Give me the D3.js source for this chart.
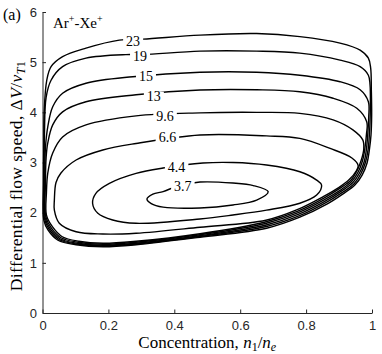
<!DOCTYPE html>
<html>
<head>
<meta charset="utf-8">
<script src="https://cdn.jsdelivr.net/npm/d3@7"></script>
<style>
  body { margin: 0; background: #fff; }
  svg { display: block; }
  .tick text { font-family: "Liberation Sans", Arial, sans-serif; font-size: 13px; fill: #262626; }
  .axis path, .axis line { stroke: #262626; }
  .serif { font-family: "Liberation Serif", "Times New Roman", serif; fill: #000; }
</style>
</head>
<body>
<div id="chart"></div>
<script>
// contour levels, in drawing order
var levels = ["23", "19", "15", "13", "9.6", "6.6", "4.4", "3.7"];

// each contour is a closed loop of [concentration, speed] points
var c23 = [[0.004,1.85],[0.003,2.6],[0.004,3.4],[0.005,4.0],[0.013,4.64],[0.026,4.91],[0.061,5.11],[0.132,5.28],[0.233,5.44],[0.305,5.46],[0.478,5.54],[0.65,5.57],[0.781,5.51],[0.903,5.38],[0.964,5.24],[0.989,5.08],[0.996,4.88],[0.998,4.45],[0.999,3.95],[0.997,3.55],[0.992,3.25],[0.985,2.99],[0.970,2.75],[0.948,2.55],[0.911,2.37],[0.863,2.17],[0.781,1.91],[0.680,1.69],[0.478,1.51],[0.284,1.36],[0.184,1.32],[0.102,1.36],[0.047,1.45],[0.017,1.65]];
var c19 = [[0.006,1.88],[0.005,2.6],[0.006,3.6],[0.011,4.3],[0.026,4.64],[0.061,4.91],[0.132,5.08],[0.253,5.15],[0.305,5.15],[0.478,5.22],[0.65,5.22],[0.781,5.18],[0.903,5.04],[0.964,4.91],[0.989,4.74],[0.994,4.55],[0.995,4.1],[0.994,3.8],[0.992,3.55],[0.988,3.25],[0.980,3.0],[0.966,2.77],[0.945,2.57],[0.909,2.40],[0.860,2.20],[0.780,1.94],[0.680,1.725],[0.478,1.525],[0.284,1.375],[0.184,1.335],[0.104,1.375],[0.05,1.465],[0.02,1.665]];
var c15 = [[0.008,1.9],[0.007,2.6],[0.009,3.3],[0.016,3.71],[0.031,4.11],[0.061,4.38],[0.132,4.58],[0.274,4.71],[0.478,4.80],[0.65,4.80],[0.781,4.74],[0.903,4.61],[0.964,4.45],[0.989,4.21],[0.990,3.9],[0.987,3.55],[0.983,3.26],[0.976,3.01],[0.962,2.79],[0.942,2.60],[0.907,2.43],[0.858,2.23],[0.778,1.97],[0.679,1.755],[0.478,1.54],[0.284,1.39],[0.184,1.35],[0.106,1.39],[0.053,1.48],[0.023,1.68]];
var c13 = [[0.01,1.92],[0.009,2.6],[0.011,3.1],[0.016,3.39],[0.031,3.75],[0.061,4.01],[0.132,4.21],[0.284,4.35],[0.478,4.445],[0.65,4.45],[0.781,4.41],[0.882,4.28],[0.954,4.08],[0.984,3.81],[0.983,3.55],[0.978,3.26],[0.971,3.03],[0.958,2.81],[0.938,2.62],[0.904,2.45],[0.856,2.26],[0.776,2.0],[0.677,1.785],[0.478,1.56],[0.284,1.41],[0.184,1.37],[0.108,1.41],[0.056,1.50],[0.026,1.70]];
var c96 = [[0.012,1.95],[0.012,2.4],[0.016,2.79],[0.031,3.19],[0.061,3.51],[0.132,3.75],[0.284,3.93],[0.478,3.99],[0.65,4.0],[0.781,3.98],[0.882,3.85],[0.942,3.65],[0.972,3.45],[0.975,3.27],[0.967,3.04],[0.954,2.83],[0.935,2.64],[0.901,2.48],[0.854,2.29],[0.775,2.03],[0.676,1.815],[0.478,1.58],[0.284,1.43],[0.184,1.39],[0.11,1.43],[0.06,1.52],[0.03,1.72]];
var c66 = [[0.036,2.25],[0.041,2.6],[0.056,2.79],[0.102,3.05],[0.183,3.25],[0.284,3.38],[0.478,3.548],[0.68,3.53],[0.781,3.48],[0.873,3.28],[0.939,3.09],[0.958,2.94],[0.953,2.84],[0.931,2.66],[0.899,2.50],[0.852,2.32],[0.773,2.06],[0.678,1.85],[0.478,1.71],[0.284,1.59],[0.183,1.575],[0.102,1.62],[0.051,1.79],[0.036,2.05]];
var c44 = [[0.152,2.187],[0.162,2.386],[0.203,2.585],[0.284,2.784],[0.366,2.89],[0.487,2.99],[0.578,3.0],[0.68,2.95],[0.781,2.816],[0.832,2.65],[0.847,2.55],[0.832,2.35],[0.781,2.187],[0.68,2.05],[0.578,1.953],[0.478,1.874],[0.284,1.788],[0.213,1.854],[0.168,1.987]];
var c37 = [[0.317,2.272],[0.335,2.37],[0.366,2.42],[0.41,2.53],[0.478,2.61],[0.578,2.59],[0.64,2.54],[0.685,2.418],[0.65,2.25],[0.578,2.153],[0.478,2.093],[0.366,2.11],[0.33,2.18]];
var contours = [c23, c19, c15, c13, c96, c66, c44, c37];

// inline label positions (concentration, speed)
var labelX = [0.275, 0.296, 0.314, 0.338, 0.372, 0.379, 0.407, 0.426];
var labelY = [5.42, 5.12, 4.72, 4.31, 3.91, 3.50, 2.91, 2.53];

var xTicks = [0, 0.2, 0.4, 0.6, 0.8, 1];
var yTicks = [0, 1, 2, 3, 4, 5, 6];

var W = 382, H = 354;
var margin = {top: 12, right: 10, bottom: 41, left: 42.5};

var svg = d3.select("#chart").append("svg")
  .attr("width", W).attr("height", H);

var x = d3.scaleLinear().domain([0, 1]).range([margin.left, W - margin.right]);
var y = d3.scaleLinear().domain([0, 6]).range([H - margin.bottom, margin.top]);

var line = d3.line()
  .x(function(d) { return x(d[0]); })
  .y(function(d) { return y(d[1]); })
  .curve(d3.curveCatmullRomClosed.alpha(0.5));

// axes, MATLAB style ticks pointing inward
svg.append("g")
  .attr("class", "axis")
  .attr("transform", "translate(0," + y(0) + ")")
  .call(d3.axisBottom(x).tickValues(xTicks).tickSize(-3.5).tickSizeOuter(0).tickPadding(8)
    .tickFormat(function(d) { return d === 0 || d === 1 ? d : d3.format(".1f")(d); }));

svg.append("g")
  .attr("class", "axis")
  .attr("transform", "translate(" + x(0) + ",0)")
  .call(d3.axisLeft(y).tickValues(yTicks).tickSize(-3.5).tickSizeOuter(0).tickPadding(5.5)
    .tickFormat(d3.format("d")));

svg.selectAll(".axis .domain").attr("stroke-width", 1);

// contour lines
svg.append("g")
  .selectAll("path")
  .data(contours)
  .enter().append("path")
  .attr("d", line)
  .attr("fill", "none")
  .attr("stroke", "#000")
  .attr("stroke-width", 1.4)
  .attr("stroke-linejoin", "round");

// inline labels with a white patch that breaks the line
var lab = svg.append("g").selectAll("g")
  .data(levels)
  .enter().append("g")
  .attr("transform", function(d, i) { return "translate(" + x(labelX[i]) + "," + y(labelY[i]) + ")"; });

lab.append("text")
  .attr("class", "serif")
  .attr("text-anchor", "middle")
  .attr("dy", "0.33em")
  .style("font-size", "14px")
  .text(function(d) { return d; });

lab.each(function() {
  var g = d3.select(this);
  var bb = g.select("text").node().getBBox();
  g.insert("rect", "text")
    .attr("x", bb.x - 3).attr("y", -5)
    .attr("width", bb.width + 6).attr("height", 10)
    .attr("fill", "#fff");
});

// panel tag and species
svg.append("text")
  .attr("class", "serif")
  .attr("x", 3).attr("y", 20)
  .style("font-size", "16px")
  .text("(a)");

var sp = svg.append("text")
  .attr("class", "serif")
  .attr("x", 53).attr("y", 28)
  .style("font-size", "15px");
sp.append("tspan").text("Ar");
sp.append("tspan").attr("dy", -6).style("font-size", "10px").text("+");
sp.append("tspan").attr("dy", 6).text("-Xe");
sp.append("tspan").attr("dy", -6).style("font-size", "10px").text("+");

// axis titles
var xl = svg.append("text")
  .attr("class", "serif")
  .attr("x", (x(0) + x(1)) / 2).attr("y", 348)
  .attr("text-anchor", "middle")
  .style("font-size", "17px");
xl.append("tspan").text("Concentration, ");
xl.append("tspan").style("font-style", "italic").text("n");
xl.append("tspan").attr("dy", 3).style("font-size", "12px").text("1");
xl.append("tspan").attr("dy", -3).text("/");
xl.append("tspan").style("font-style", "italic").text("n");
xl.append("tspan").attr("dy", 3).style("font-size", "12px").style("font-style", "italic").text("e");

var yl = svg.append("text")
  .attr("class", "serif")
  .attr("transform", "translate(22," + 176 + ") rotate(-90)")
  .attr("text-anchor", "middle")
  .style("font-size", "17.5px")
  .style("letter-spacing", "0.4px");
yl.append("tspan").text("Differential flow speed, \u0394");
yl.append("tspan").style("font-style", "italic").text("V");
yl.append("tspan").text("/");
yl.append("tspan").style("font-style", "italic").text("v");
yl.append("tspan").attr("dy", 3).style("font-size", "12px").style("font-style", "italic").text("T");
yl.append("tspan").style("font-size", "12px").text("1");
</script>
</body>
</html>
